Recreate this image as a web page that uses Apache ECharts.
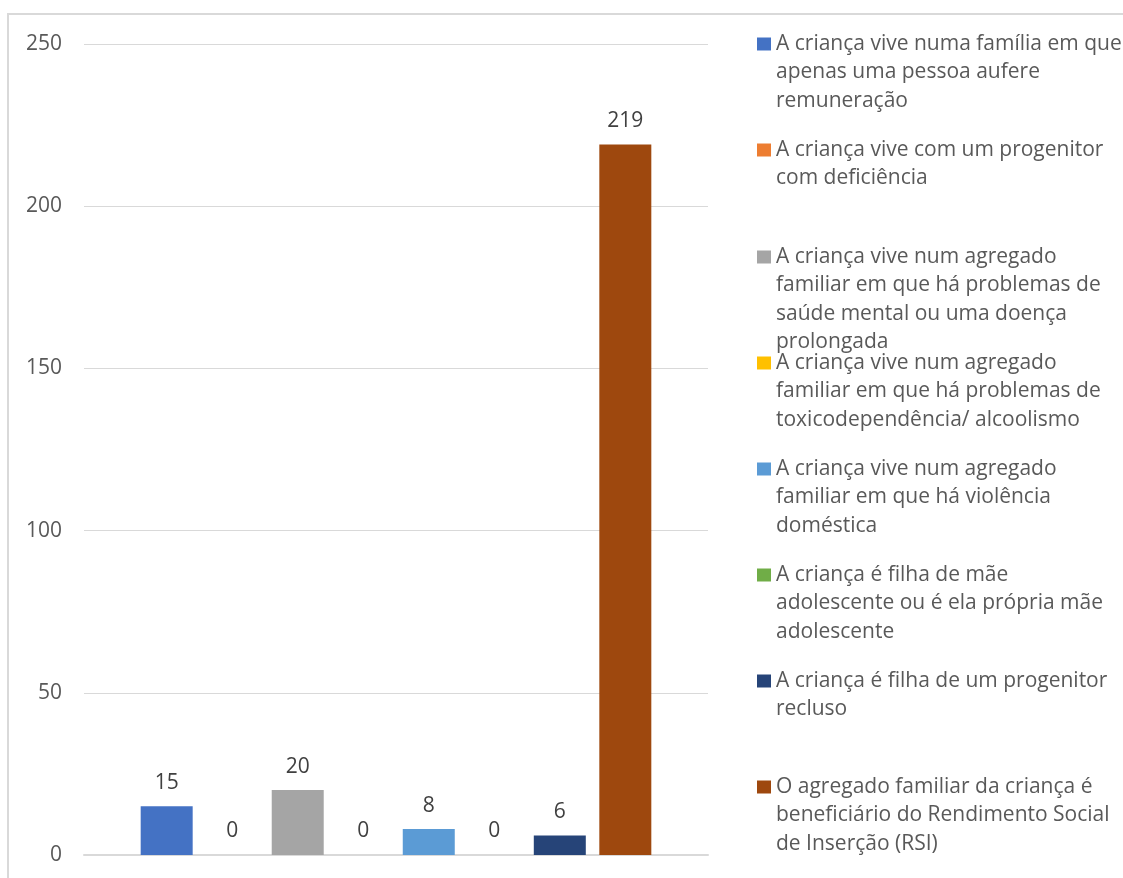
<!DOCTYPE html>
<html>
<head>
<meta charset="utf-8">
<script src="https://cdn.jsdelivr.net/npm/echarts@6/dist/echarts.min.js"></script>
<style>
  html, body { margin: 0; padding: 0; background: #ffffff; }
  #chart { width: 1123px; height: 878px; }
</style>
</head>
<body>
<div id="chart"></div>
<script>
const seriesNames = [
  'A criança vive numa família em que apenas uma pessoa aufere remuneração',
  'A criança vive com um progenitor com deficiência',
  'A criança vive num agregado familiar em que há problemas de saúde mental ou uma doença prolongada',
  'A criança vive num agregado familiar em que há problemas de toxicodependência/ alcoolismo',
  'A criança vive num agregado familiar em que há violência doméstica',
  'A criança é filha de mãe adolescente ou é ela própria mãe adolescente',
  'A criança é filha de um progenitor recluso',
  'O agregado familiar da criança é beneficiário do Rendimento Social de Inserção (RSI)'
];
const legendLabels = [
  'A criança vive numa família em que\napenas uma pessoa aufere\nremuneração',
  'A criança vive com um progenitor\ncom deficiência',
  'A criança vive num agregado\nfamiliar em que há problemas de\nsaúde mental ou uma doença\nprolongada',
  'A criança vive num agregado\nfamiliar em que há problemas de\ntoxicodependência/ alcoolismo',
  'A criança vive num agregado\nfamiliar em que há violência\ndoméstica',
  'A criança é filha de mãe\nadolescente ou é ela própria mãe\nadolescente',
  'A criança é filha de um progenitor\nrecluso',
  'O agregado familiar da criança é\nbeneficiário do Rendimento Social\nde Inserção (RSI)'
];
const values = [15, 0, 20, 0, 8, 0, 6, 219];
const categories = [''];
const yMin = 0, yMax = 250, yInterval = 50;

const colors = ['#4472C4', '#ED7D31', '#A5A5A5', '#FFC000', '#5B9BD5', '#70AD47', '#264478', '#9E480E'];
const legendCenters = [44, 150, 257, 363, 469, 575, 681, 787];
const FONT = 'Open Sans';
const LH = 28.5;

const chart = echarts.init(document.getElementById('chart'), null, { renderer: 'canvas' });

// Blank lines before the label keep the icon level with the first text line.
const legends = seriesNames.map((name, i) => {
  const n = legendLabels[i].split('\n').length;
  const shown = ' \n'.repeat(n - 1) + legendLabels[i];
  return {
    data: [name],
    orient: 'vertical',
    left: 757,
    top: legendCenters[i] - (2 * n - 1) * LH / 2,
    padding: 0,
    itemWidth: 14,
    itemHeight: 13,
    icon: 'rect',
    selectedMode: false,
    formatter: () => shown,
    textStyle: {
      fontFamily: FONT,
      fontSize: 21,
      color: '#595959',
      lineHeight: LH
    }
  };
});

const option = {
  backgroundColor: '#ffffff',
  animation: false,
  color: colors,
  graphic: [{
    type: 'rect',
    shape: { x: 8, y: 14, width: 1400, height: 1000 },
    style: { fill: 'none', stroke: '#d9d9d9', lineWidth: 2 },
    silent: true
  }],
  grid: { left: 84, right: 415, top: 44, bottom: 23, containLabel: false },
  legend: legends,
  xAxis: {
    type: 'category',
    data: categories,
    axisLine: { show: true, lineStyle: { color: '#d9d9d9', width: 2 } },
    axisTick: { show: false },
    axisLabel: { show: false }
  },
  yAxis: {
    type: 'value',
    min: yMin, max: yMax, interval: yInterval,
    axisLine: { show: false },
    axisTick: { show: false },
    splitLine: { lineStyle: { color: '#d9d9d9', width: 1 } },
    axisLabel: { fontFamily: FONT, fontSize: 21, color: '#595959', margin: 22 }
  },
  series: seriesNames.map((name, i) => ({
    name: name,
    type: 'bar',
    data: [values[i]],
    barWidth: 52,
    barGap: '26%',
    itemStyle: { color: colors[i] },
    label: {
      show: true,
      position: 'top',
      distance: 13,
      fontFamily: FONT,
      fontSize: 21,
      color: '#404040'
    }
  }))
};
chart.setOption(option);
</script>
</body>
</html>
